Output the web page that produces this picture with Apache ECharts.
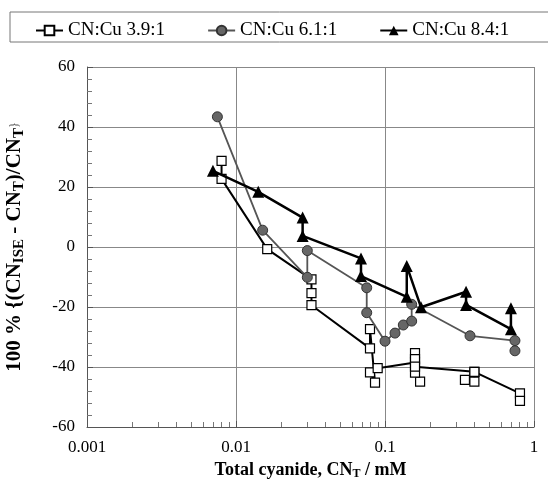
<!DOCTYPE html>
<html>
<head>
	<meta charset="UTF-8">
	<title>CN ISE</title>
	<script src="https://cdn.jsdelivr.net/npm/echarts@6/dist/echarts.min.js"></script>
	<style>
		html, body { margin: 0; padding: 0; background: #fff; }
		#show { width: 548px; height: 493px; }
	</style>
</head>
<body>
<div id="show"></div>
<script type="text/javascript">
	// series names
	var names = ['CN:Cu 3.9:1', 'CN:Cu 6.1:1', 'CN:Cu 8.4:1'];

	// [total cyanide (mM), 100%(CNise-CNt)/CNt]
	var ratio39 = [
		[0.008, 28.7], [0.008, 22.7], [0.0162, -0.7], [0.0321, -10.8], [0.0321, -15.4], [0.0321, -19.4],
		[0.0793, -33.8], [0.0793, -27.4], [0.0857, -45.2], [0.0793, -41.8], [0.0893, -40.4],
		[0.159, -38.5], [0.159, -35.4], [0.159, -37.4], [0.172, -44.9], [0.159, -41.9], [0.159, -39.9],
		[0.398, -41.6], [0.344, -44.3], [0.398, -44.9], [0.398, -41.6], [0.805, -48.8], [0.805, -51.3]
	];
	var ratio61 = [
		[0.0075, 43.4], [0.0151, 5.6], [0.0301, -10.1], [0.0301, -1.2], [0.0754, -13.6], [0.0754, -21.9],
		[0.1, -31.4], [0.1167, -28.7], [0.1327, -26.0], [0.151, -24.7], [0.151, -19.1],
		[0.372, -29.6], [0.745, -31.2], [0.745, -34.6]
	];
	var ratio84 = [
		[0.007, 25.4], [0.0141, 18.4], [0.028, 9.8], [0.028, 3.7], [0.069, -3.8], [0.069, -9.7],
		[0.14, -16.6], [0.14, -6.3], [0.1745, -20.1], [0.35, -14.9], [0.35, -19.3], [0.70, -27.4], [0.70, -20.4]
	];

	var xTicks = [0.001, 0.01, 0.1, 1];
	var yTicks = [-60, -40, -20, 0, 20, 40, 60];

	var myChart = echarts.init(document.getElementById('show'));
	var serif = '"Liberation Serif", "DejaVu Serif", serif';

	option = {
		backgroundColor: '#fff',
		animation: false,
		textStyle: { fontFamily: serif },
		graphic: [{
			type: 'rect',
			shape: { x: 10, y: 12, width: 560, height: 30 },
			style: { fill: 'none', stroke: '#777', lineWidth: 1 }
		}],
		legend: {
			top: 16,
			left: 30,
			itemWidth: 27,
			itemHeight: 12,
			itemGap: 42,
			textStyle: { fontFamily: serif, fontSize: 19, color: '#000' },
			data: names
		},
		grid: { left: 87, right: 14, top: 67, bottom: 66, containLabel: false, outerBoundsMode: 'none' },
		xAxis: {
			type: 'log',
			logBase: 10,
			min: xTicks[0],
			max: xTicks[xTicks.length - 1],
			name: '{b|Total cyanide, CN}{s|T}{b| / mM}',
			nameLocation: 'middle',
			nameGap: 32,
			nameTextStyle: {
				rich: {
					b: { fontFamily: serif, fontSize: 18, fontWeight: 'bold', color: '#000' },
					s: { fontFamily: serif, fontSize: 12, fontWeight: 'bold', color: '#000', verticalAlign: 'bottom', padding: [8, 0, 0, 0] }
				}
			},
			axisLine: { onZero: false, lineStyle: { color: '#555', width: 1 } },
			axisTick: { inside: true, length: 6, lineStyle: { color: '#555' } },
			minorTick: { show: true, splitNumber: 9, length: 5, lineStyle: { color: '#777' } },
			axisLabel: {
				fontFamily: serif, fontSize: 17, color: '#000', margin: 12,
				formatter: function (v) { return String(v); }
			},
			splitLine: { show: true, lineStyle: { color: '#888', width: 1 } }
		},
		yAxis: {
			type: 'value',
			min: yTicks[0],
			max: yTicks[yTicks.length - 1],
			interval: 20,
			name: '{b|100 % {(CN}{s|ISE}{b| - CN}{s|T}{b|)/CN}{s|T}{b|}}',
			nameLocation: 'middle',
			nameGap: 60,
			nameRotate: 90,
			nameTextStyle: {
				rich: {
					b: { fontFamily: serif, fontSize: 21, fontWeight: 'bold', color: '#000' },
					s: { fontFamily: serif, fontSize: 15, fontWeight: 'bold', color: '#000', padding: [9, 0, 0, 0] }
				}
			},
			axisLine: { show: true, lineStyle: { color: '#555', width: 1 } },
			axisTick: { show: true, inside: true, length: 6, lineStyle: { color: '#555' } },
			minorTick: { show: true, splitNumber: 5, length: 5, lineStyle: { color: '#777' } },
			axisLabel: { fontFamily: serif, fontSize: 17, color: '#000', margin: 12 },
			splitLine: { show: true, lineStyle: { color: '#888', width: 1 } }
		},
		series: [
			{
				name: names[0],
				type: 'line',
				data: ratio39,
				symbol: 'rect',
				symbolSize: 9,
				z: 3,
				lineStyle: { color: '#000', width: 2 },
				itemStyle: { color: '#fff', borderColor: '#000', borderWidth: 1.2 }
			},
			{
				name: names[1],
				type: 'line',
				data: ratio61,
				symbol: 'circle',
				symbolSize: 10,
				z: 4,
				lineStyle: { color: '#555', width: 1.8 },
				itemStyle: { color: '#666', borderColor: '#333', borderWidth: 1 }
			},
			{
				name: names[2],
				type: 'line',
				data: ratio84,
				symbol: 'triangle',
				symbolSize: 12,
				z: 5,
				lineStyle: { color: '#000', width: 2.5 },
				itemStyle: { color: '#000' }
			}
		]
	};

	myChart.setOption(option);
</script>
</body>
</html>
